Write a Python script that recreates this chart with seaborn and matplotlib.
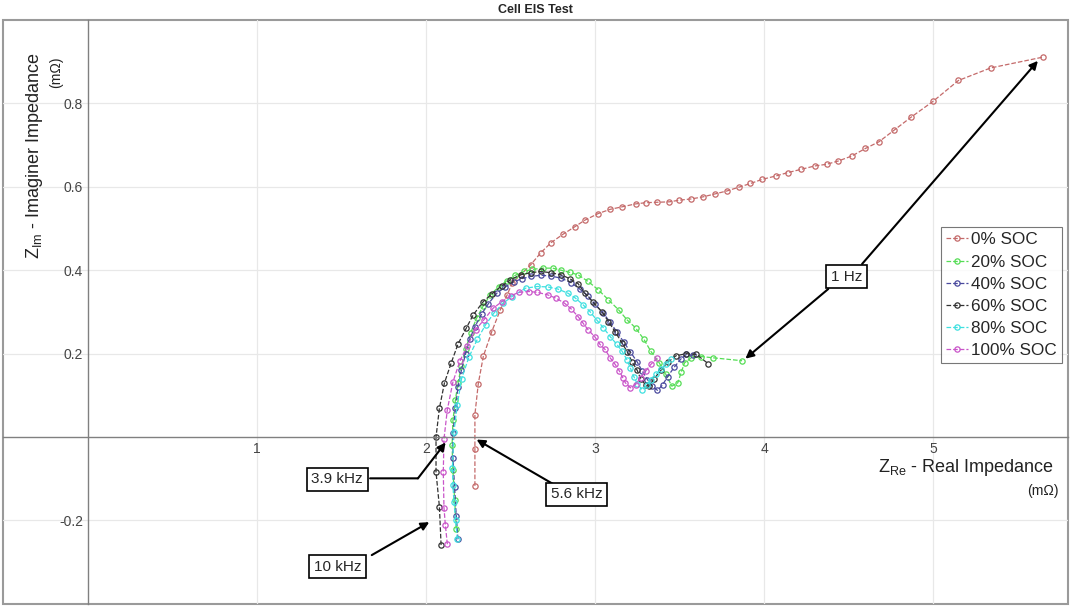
import numpy as np
import pandas as pd
import matplotlib
matplotlib.use('Agg')
import matplotlib.pyplot as plt
import seaborn as sns

# EIS data (Z_Re, Z_Im in mOhm)
soc0_re = [2.29, 2.29, 2.29, 2.31, 2.34, 2.39, 2.44, 2.48, 2.51, 2.56, 2.62, 2.68, 2.74, 2.81, 2.88,
           2.94, 3.02, 3.09, 3.16, 3.24, 3.30, 3.37, 3.44, 3.50, 3.57, 3.64, 3.71, 3.78, 3.85, 3.92,
           3.99, 4.07, 4.14, 4.22, 4.30, 4.37, 4.44, 4.52, 4.60, 4.68, 4.77, 4.87, 5.00, 5.15, 5.34, 5.65]
soc0_im = [-0.117, -0.029, 0.054, 0.128, 0.194, 0.253, 0.305, 0.340, 0.369, 0.389, 0.413, 0.442, 0.466,
           0.486, 0.504, 0.520, 0.536, 0.546, 0.552, 0.559, 0.562, 0.563, 0.564, 0.568, 0.571, 0.576,
           0.583, 0.590, 0.599, 0.608, 0.618, 0.626, 0.634, 0.642, 0.650, 0.654, 0.662, 0.674, 0.692,
           0.708, 0.736, 0.767, 0.805, 0.855, 0.885, 0.911]

soc20_re = [2.18, 2.17, 2.16, 2.155, 2.16, 2.175, 2.19, 2.21, 2.235, 2.265, 2.30, 2.34, 2.38, 2.43, 2.48,
            2.53, 2.58, 2.63, 2.69, 2.75, 2.80, 2.85, 2.90, 2.96, 3.02, 3.08, 3.14, 3.19, 3.24, 3.29,
            3.33, 3.38, 3.42, 3.455, 3.49, 3.51, 3.53, 3.57, 3.63, 3.70, 3.87]
soc20_im = [-0.22, -0.15, -0.08, -0.02, 0.04, 0.09, 0.13, 0.17, 0.21, 0.25, 0.285, 0.315, 0.34, 0.36,
            0.375, 0.388, 0.397, 0.402, 0.405, 0.405, 0.400, 0.395, 0.389, 0.373, 0.353, 0.329, 0.305,
            0.281, 0.262, 0.234, 0.206, 0.178, 0.150, 0.122, 0.130, 0.155, 0.178, 0.190, 0.193, 0.190, 0.183]

soc40_re = [2.19, 2.18, 2.17, 2.16, 2.16, 2.175, 2.19, 2.21, 2.235, 2.26, 2.29, 2.33, 2.37, 2.42, 2.47,
            2.52, 2.57, 2.62, 2.68, 2.74, 2.80, 2.86, 2.91, 2.96, 3.00, 3.05, 3.09, 3.13, 3.17, 3.21,
            3.25, 3.28, 3.31, 3.34, 3.37, 3.40, 3.43, 3.47, 3.51, 3.54, 3.58]
soc40_im = [-0.245, -0.19, -0.12, -0.05, 0.01, 0.07, 0.12, 0.16, 0.20, 0.235, 0.265, 0.295, 0.32, 0.345,
            0.36, 0.372, 0.380, 0.385, 0.388, 0.386, 0.381, 0.370, 0.355, 0.338, 0.318, 0.297, 0.275,
            0.252, 0.228, 0.204, 0.180, 0.158, 0.138, 0.122, 0.112, 0.125, 0.145, 0.168, 0.188, 0.198, 0.196]

soc60_re = [2.09, 2.08, 2.06, 2.06, 2.08, 2.11, 2.15, 2.19, 2.24, 2.28, 2.34, 2.39, 2.45, 2.50, 2.56,
            2.62, 2.68, 2.74, 2.80, 2.85, 2.90, 2.94, 2.99, 3.04, 3.08, 3.12, 3.16, 3.19, 3.22, 3.25,
            3.27, 3.30, 3.32, 3.35, 3.39, 3.43, 3.48, 3.54, 3.60, 3.67]
soc60_im = [-0.259, -0.167, -0.084, 0.0, 0.069, 0.130, 0.178, 0.223, 0.262, 0.293, 0.325, 0.343, 0.363,
            0.377, 0.389, 0.394, 0.397, 0.394, 0.389, 0.380, 0.368, 0.345, 0.323, 0.301, 0.277, 0.252,
            0.226, 0.205, 0.180, 0.160, 0.140, 0.125, 0.122, 0.140, 0.160, 0.180, 0.195, 0.200, 0.198, 0.176]

soc80_re = [2.186, 2.176, 2.166, 2.16, 2.157, 2.166, 2.186, 2.211, 2.255, 2.304, 2.353, 2.402, 2.457,
            2.51, 2.59, 2.66, 2.72, 2.78, 2.84, 2.885, 2.93, 2.97, 3.01, 3.05, 3.09, 3.13, 3.16, 3.19,
            3.21, 3.23, 3.25, 3.28, 3.31, 3.33, 3.36, 3.39, 3.42, 3.45]
soc80_im = [-0.245, -0.20, -0.155, -0.115, -0.073, 0.012, 0.078, 0.140, 0.192, 0.234, 0.269, 0.297,
            0.321, 0.337, 0.357, 0.361, 0.360, 0.355, 0.345, 0.333, 0.317, 0.301, 0.281, 0.262, 0.241,
            0.222, 0.206, 0.185, 0.165, 0.145, 0.128, 0.113, 0.125, 0.138, 0.150, 0.162, 0.175, 0.186]

soc100_re = [2.127, 2.115, 2.107, 2.103, 2.107, 2.127, 2.160, 2.201, 2.245, 2.294, 2.343, 2.398, 2.451,
             2.504, 2.55, 2.61, 2.66, 2.72, 2.77, 2.82, 2.86, 2.90, 2.93, 2.96, 3.00, 3.03, 3.06, 3.09,
             3.12, 3.145, 3.165, 3.18, 3.21, 3.24, 3.27, 3.30, 3.33, 3.37]
soc100_im = [-0.257, -0.21, -0.169, -0.084, -0.005, 0.066, 0.132, 0.182, 0.219, 0.257, 0.281, 0.309,
             0.325, 0.339, 0.347, 0.349, 0.347, 0.341, 0.333, 0.321, 0.307, 0.289, 0.273, 0.257, 0.240,
             0.222, 0.210, 0.190, 0.174, 0.158, 0.142, 0.130, 0.118, 0.126, 0.142, 0.158, 0.174, 0.190]

labels = ['0% SOC', '20% SOC', '40% SOC', '60% SOC', '80% SOC', '100% SOC']
colors = ['#c46a6a', '#55dd55', '#4a4a9e', '#333333', '#3fe0e0', '#c955c9']
series = [(soc0_re, soc0_im), (soc20_re, soc20_im), (soc40_re, soc40_im),
          (soc60_re, soc60_im), (soc80_re, soc80_im), (soc100_re, soc100_im)]

sns.set_style('white')
plt.rcParams['font.family'] = ['Liberation Sans', 'DejaVu Sans']
plt.rcParams['mathtext.default'] = 'regular'

fig = plt.figure(figsize=(10.71, 6.06), dpi=100)
ax = fig.add_axes([0.003, 0.0035, 0.9945, 0.9635])

for (re, im), lab, col in zip(series, labels, colors):
    df = pd.DataFrame({'re': re, 'im': im})
    sns.lineplot(data=df, x='re', y='im', sort=False, estimator=None, ax=ax, label=lab,
                 color=col, linestyle='--', linewidth=0.9, marker='o', markersize=3.8,
                 markerfacecolor='none', markeredgecolor=col, markeredgewidth=0.9)

ax.set_xlim(-0.5, 5.8)
ax.set_ylim(-0.4, 1.0)

# axes through the origin
ax.spines['left'].set_position(('data', 0))
ax.spines['bottom'].set_position(('data', 0))
ax.spines['top'].set_visible(False)
ax.spines['right'].set_visible(False)
for s in ['left', 'bottom']:
    ax.spines[s].set_color('#808080')
    ax.spines[s].set_linewidth(1.0)
ax.patch.set_edgecolor('#9a9a9a')
ax.patch.set_linewidth(1.5)

ax.set_xticks([1, 2, 3, 4, 5])
ax.set_yticks([-0.2, 0.2, 0.4, 0.6, 0.8])
ax.set_yticklabels(['-0.2', '0.2', '0.4', '0.6', '0.8'])
ax.tick_params(direction='in', length=7, width=1, colors='#444444', labelsize=10)
ax.grid(True, color='#e8e8e8', linewidth=0.9)
ax.set_axisbelow(True)
ax.set_xlabel('')
ax.set_ylabel('')
ax.set_title('Cell EIS Test', fontsize=9, fontweight='bold', pad=5)

# axis labels
ax.text(-0.315, 0.675, 'Z$_{Im}$ - Imaginer Impedance', rotation=90, ha='center', va='center',
        fontsize=13, color='#222222')
ax.text(-0.185, 0.875, '(m\u03a9)', rotation=90, ha='center', va='center', fontsize=10, color='#222222')
ax.text(5.715, -0.072, 'Z$_{Re}$ - Real Impedance', ha='right', va='center', fontsize=13, color='#222222')
ax.text(5.74, -0.13, '(m\u03a9)', ha='right', va='center', fontsize=10, color='#222222')

# frequency annotations
box = dict(boxstyle='square,pad=0.3', facecolor='white', edgecolor='black', linewidth=1.2)
arrow = dict(arrowstyle='-|>', color='black', linewidth=1.5, mutation_scale=12, shrinkA=0, shrinkB=0)

ax.text(4.487, 0.384, '1 Hz', ha='center', va='center', fontsize=11, bbox=box, zorder=5)
ax.annotate('', xy=(5.62, 0.902), xytext=(4.58, 0.415), arrowprops=arrow)
ax.annotate('', xy=(3.89, 0.188), xytext=(4.38, 0.355), arrowprops=arrow)

ax.text(1.476, -0.101, '3.9 kHz', ha='center', va='center', fontsize=11, bbox=box, zorder=5)
ax.annotate('', xy=(1.953, -0.099), xytext=(1.67, -0.099),
            arrowprops=dict(arrowstyle='-', color='black', linewidth=1.5, shrinkA=0, shrinkB=0))
ax.annotate('', xy=(2.117, -0.013), xytext=(1.953, -0.099), arrowprops=arrow)

ax.text(2.893, -0.137, '5.6 kHz', ha='center', va='center', fontsize=11, bbox=box, zorder=5)
ax.annotate('', xy=(2.30, -0.006), xytext=(2.75, -0.112), arrowprops=arrow)

ax.text(1.476, -0.311, '10 kHz', ha='center', va='center', fontsize=11, bbox=box, zorder=5)
ax.annotate('', xy=(2.02, -0.204), xytext=(1.68, -0.283), arrowprops=arrow)

leg = ax.legend(loc='upper right', bbox_to_anchor=(0.994, 0.645), fontsize=12.3, frameon=True,
                fancybox=False, edgecolor='#555555', handlelength=1.3, handletextpad=0.15,
                borderpad=0.3, labelspacing=0.42, borderaxespad=0)
leg.get_frame().set_linewidth(0.8)

plt.savefig('out.png', dpi=100)
plt.close()
